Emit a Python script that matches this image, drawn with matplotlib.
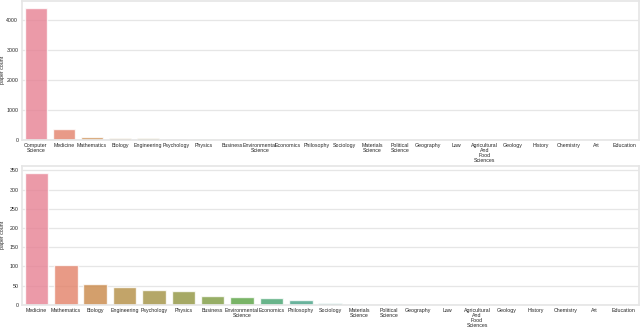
import matplotlib
matplotlib.use("Agg")
import matplotlib.pyplot as plt
import seaborn as sns

fields = ["Computer Science", "Medicine", "Mathematics", "Biology", "Engineering",
          "Psychology", "Physics", "Business", "Environmental Science", "Economics",
          "Philosophy", "Sociology", "Materials Science", "Political Science",
          "Geography", "Law", "Agricultural And Food Sciences", "Geology",
          "History", "Chemistry", "Art", "Education"]
counts = [4427, 344, 103, 55, 46, 39, 37, 23, 21, 17, 12, 4, 1, 1, 1, 1, 1,
          0, 0, 0, 0, 0]

sns.set_theme(style="whitegrid")
plt.rcParams["font.family"] = ["Liberation Sans", "DejaVu Sans"]

fig, (ax1, ax2) = plt.subplots(2, 1, figsize=(6.4, 3.28), dpi=100)

# top: everything, bottom: without computer science
labels_all = [f.replace(" ", "\n") for f in fields]
sns.barplot(x=labels_all, y=counts, hue=labels_all, palette="husl",
            legend=False, alpha=0.8, ax=ax1)
sns.barplot(x=labels_all[1:], y=counts[1:], hue=labels_all[1:], palette="husl",
            legend=False, alpha=0.8, ax=ax2)

for ax in (ax1, ax2):
    ax.set_ylabel("paper count", fontsize=3.8)
    ax.yaxis.set_label_coords(-0.027, 0.5)
    ax.tick_params(axis="both", labelsize=3.8, pad=2.5, length=0)
    for lab in ax.get_xticklabels():
        lab.set_linespacing(0.95)
    ax.xaxis.grid(False)
    ax.yaxis.grid(True, color="#e6e6e6", linewidth=0.9)
    for s in ax.spines.values():
        s.set_color("#e6e6e6")

fig.subplots_adjust(left=0.034, right=0.998, top=0.997, bottom=0.071, hspace=0.19)
fig.savefig("out.png")
